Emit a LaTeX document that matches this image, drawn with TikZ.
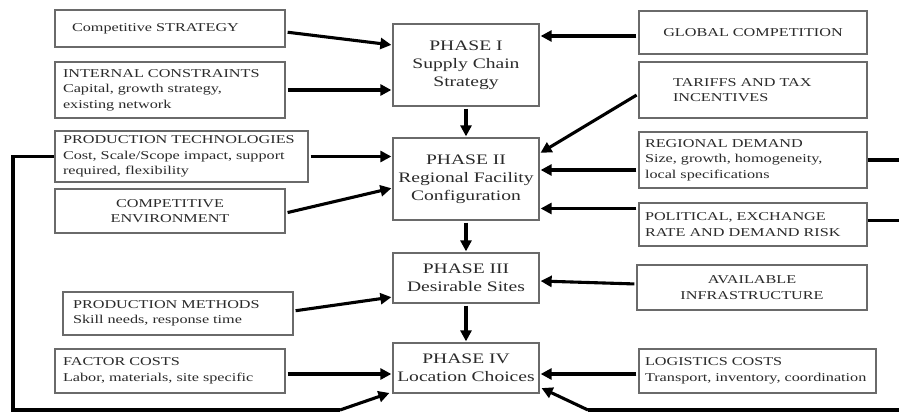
\documentclass[tikz,border=0pt]{standalone}
\usepackage{fontspec}
\setmainfont{Liberation Serif}[FakeStretch=1.35]
\usetikzlibrary{arrows.meta,calc}
\definecolor{boxline}{HTML}{6A6A6A}
\definecolor{ink}{HTML}{2A2A2A}
\begin{document}
\begin{tikzpicture}[x=1pt,y=-1pt,
  box/.style={draw=boxline,line width=1.3pt,rectangle,text=ink,inner ysep=0pt,
    font=\fontsize{12}{15.5}\selectfont},
  lbox/.style={box,align=left},
  cbox/.style={box,align=center},
  sz/.style n args={3}{minimum height=#1,text width=#2,inner xsep=#3},
  phase/.style={box,align=center,font=\fontsize{14.5}{18}\selectfont,
    text width=140pt,inner xsep=3pt},
  flow/.style={line width=3.1pt,-{Triangle[length=11pt,width=11pt]},
    shorten >=1pt,shorten <=2pt},
  feed/.style={line width=3.1pt,line join=miter}]

\fill[white] (0,0) rectangle (899,412);
\useasboundingbox (0,0) rectangle (899,412);

% Phases of the decision process
\node[phase,minimum height=82pt] (p1) at (466,65)  {PHASE I\\Supply Chain\\Strategy};
\node[phase,minimum height=82pt] (p2) at (466,179) {PHASE II\\Regional Facility\\Configuration};
\node[phase,minimum height=50pt] (p3) at (466,278) {PHASE III\\Desirable Sites};
\node[phase,minimum height=50pt] (p4) at (466,368) {PHASE IV\\Location Choices};

% Left-hand factors
\node[lbox,sz={37pt}{196pt}{17pt}] (cs) at (170,28.5) {Competitive STRATEGY};
\node[lbox,sz={56pt}{214pt}{8pt}]  (ic) at (170,90) {INTERNAL CONSTRAINTS\\Capital, growth strategy,\\existing network};
\node[lbox,sz={51pt}{237pt}{8pt}]  (pt) at (181.5,156.5) {PRODUCTION TECHNOLOGIES\\Cost, Scale/Scope impact, support\\required, flexibility};
\node[cbox,sz={44pt}{220pt}{5pt}]  (ce) at (170,211) {COMPETITIVE\\ENVIRONMENT};
\node[lbox,sz={43pt}{210pt}{10pt}] (pm) at (178,313.5) {PRODUCTION METHODS\\Skill needs, response time};
\node[lbox,sz={44pt}{214pt}{8pt}]  (fc) at (170,371) {FACTOR COSTS\\Labor, materials, site specific};

% Right-hand factors
\node[cbox,sz={43pt}{218pt}{5pt}]  (gc) at (753,32.5) {GLOBAL COMPETITION};
\node[lbox,sz={56pt}{160pt}{34pt}] (tt) at (753,90) {TARIFFS AND TAX\\INCENTIVES};
\node[lbox,sz={56pt}{216pt}{6pt}]  (rd) at (753,160) {REGIONAL DEMAND\\Size, growth, homogeneity,\\local specifications};
\node[lbox,sz={43pt}{216pt}{6pt}]  (pe) at (753,224.5) {POLITICAL, EXCHANGE\\RATE AND DEMAND RISK};
\node[cbox,sz={45pt}{220pt}{5pt}]  (ai) at (752,287.5) {AVAILABLE\\INFRASTRUCTURE};
\node[lbox,sz={44pt}{225pt}{6pt}]  (lc) at (757.5,371) {LOGISTICS COSTS\\Transport, inventory, coordination};

% Phase sequence
\draw[flow] (p1.south) -- (p2.north);
\draw[flow] (p2.south) -- (p3.north);
\draw[flow] (p3.south) -- (p4.north);

% Inputs from the left
\draw[flow] ([yshift=-3.5pt]cs.east) -- ([yshift=20pt]p1.west);
\draw[flow] (ic.east) -- (ic.east -| p1.west);
\draw[flow] (pt.east) -- (pt.east -| p2.west);
\draw[flow] ([yshift=-2pt]ce.east) -- ([yshift=-9pt]p2.west);
\draw[flow] ([yshift=2.5pt]pm.east) -- ([yshift=-19pt]p3.west);
\draw[flow] ([yshift=-3pt]fc.east) -- ([yshift=-3pt]fc.east -| p4.west);

% Inputs from the right
\draw[flow] ([yshift=-3.5pt]gc.west) -- ([yshift=-3.5pt]gc.west -| p1.east);
\draw[flow] ([yshift=-4pt]tt.west) -- ([yshift=-16pt]p2.north east);
\draw[flow] ([yshift=-10pt]rd.west) -- ([yshift=-10pt]rd.west -| p2.east);
\draw[flow] ([yshift=16pt]pe.west) -- ([yshift=16pt]pe.west -| p2.east);
\draw[flow] ([yshift=3.5pt]ai.west) -- ([yshift=-3pt]p3.east);
\draw[flow] ([yshift=-3pt]lc.west) -- ([yshift=-3pt]lc.west -| p4.east);

% Feedback loops running round the outside
\coordinate (loopL)    at (13,410);
\coordinate (loopLend) at (340,410);
\coordinate (loopR)    at (905,410);
\coordinate (loopRend) at (588,410);
\coordinate (edgeR)    at (905,0);

\draw[feed] (pt.west) -| (loopL) -- (loopLend);
\draw[flow,shorten <=0pt] (loopLend) -- ([xshift=-2pt,yshift=1pt]p4.south west);
\draw[feed] (loopR) -- (loopRend);
\draw[flow,shorten <=0pt] (loopRend) -- ([xshift=1pt,yshift=6pt]p4.south east);
\draw[feed] (rd.east) -- (rd.east -| edgeR);
\draw[feed] ([yshift=4pt]pe.east) -- ([yshift=4pt]pe.east -| edgeR);
\end{tikzpicture}
\end{document}
